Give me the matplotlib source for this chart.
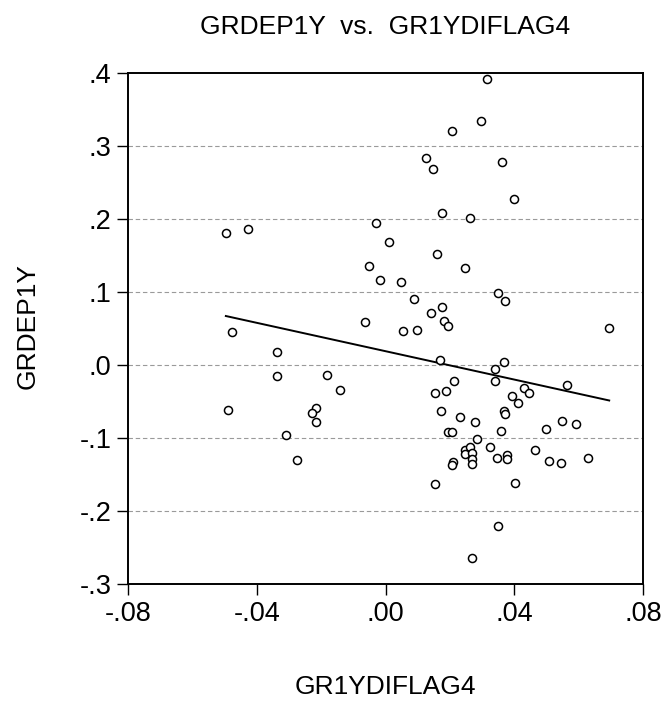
import numpy as np
import matplotlib
matplotlib.use('Agg')
import matplotlib.pyplot as plt

# scatter data
gr1ydiflag4 = [
    -0.0496, -0.0426, 0.0315, 0.0298, 0.0208, 0.0125, 0.0149, 0.0363, 0.0176, 0.0263,
    -0.0029, 0.0011, 0.0159, 0.0398, -0.0478, -0.0336, -0.0336, -0.0488, -0.0310, -0.0052,
    0.0247, -0.0017, 0.0047, 0.0350, 0.0090, 0.0176, 0.0141, 0.0182, 0.0193, -0.0065,
    0.0053, 0.0097, 0.0169, 0.0340, 0.0339, -0.0182, -0.0142, 0.0213, 0.0154, 0.0189,
    -0.0217, -0.0229, -0.0217, 0.0172, 0.0231, 0.0278, 0.0193, 0.0206, 0.0285, 0.0246,
    0.0264, 0.0325, 0.0360, 0.0372, 0.0695, 0.0367, 0.0565, 0.0431, 0.0445, 0.0394,
    0.0411, 0.0369, 0.0372, 0.0548, 0.0593, 0.0500, 0.0465, -0.0276, 0.0246, 0.0270,
    0.0270, 0.0270, 0.0210, 0.0206, 0.0345, 0.0154, 0.0348, 0.0268, 0.0378, 0.0378,
    0.0507, 0.0546, 0.0630, 0.0401,
]
grdep1y = [
    0.1803, 0.1861, 0.3914, 0.3339, 0.3206, 0.2833, 0.2678, 0.2782, 0.2080, 0.2012,
    0.1939, 0.1679, 0.1526, 0.2268, 0.0452, 0.0174, -0.0150, -0.0611, -0.0951, 0.1359,
    0.1328, 0.1164, 0.1140, 0.0990, 0.0908, 0.0798, 0.0712, 0.0603, 0.0534, 0.0585,
    0.0462, 0.0483, 0.0065, -0.0054, -0.0223, -0.0132, -0.0346, -0.0223, -0.0383, -0.0355,
    -0.0592, -0.0652, -0.0775, -0.0625, -0.0707, -0.0780, -0.0912, -0.0912, -0.1016, -0.1163,
    -0.1115, -0.1115, -0.0907, 0.0876, 0.0511, 0.0046, -0.0277, -0.0318, -0.0387, -0.0424,
    -0.0515, -0.0629, -0.0674, -0.0762, -0.0811, -0.0879, -0.1156, -0.1299, -0.1217, -0.1208,
    -0.1282, -0.1354, -0.1323, -0.1368, -0.1272, -0.1624, -0.2198, -0.2640, -0.1235, -0.1290,
    -0.1309, -0.1345, -0.1276, -0.1618,
]

x_ticks = [-0.08, -0.04, 0.00, 0.04, 0.08]
x_tick_labels = ['-.08', '-.04', '.00', '.04', '.08']
y_ticks = [-0.3, -0.2, -0.1, 0.0, 0.1, 0.2, 0.3, 0.4]
y_tick_labels = ['-.3', '-.2', '-.1', '.0', '.1', '.2', '.3', '.4']

plt.rcParams['font.family'] = ['Liberation Sans', 'DejaVu Sans']

fig = plt.figure(figsize=(6.61, 7.04), dpi=100)
ax = fig.add_axes([128 / 661, 1 - 584.3 / 704, 515 / 661, 511.6 / 704])

x = np.array(gr1ydiflag4)
y = np.array(grdep1y)

# horizontal dashed grid
for yt in y_ticks[1:-1]:
    ax.axhline(yt, color='#9a9a9a', lw=0.8, ls=(0, (4, 2.5)), zorder=0)

ax.plot(x, y, 'o', ms=5.8, mfc='white', mec='black', mew=1.1, zorder=3)

# least squares line over the data range
slope, icept = np.polyfit(x, y, 1)
xs = np.array([x.min(), x.max()])
ax.plot(xs, icept + slope * xs, color='black', lw=1.4, zorder=2)

ax.set_xlim(-0.08, 0.08)
ax.set_ylim(-0.3, 0.4)
ax.set_xticks(x_ticks)
ax.set_xticklabels(x_tick_labels)
ax.set_yticks(y_ticks)
ax.set_yticklabels(y_tick_labels)
ax.tick_params(direction='out', length=8, width=1.0, labelsize=19.5, pad=4)

for s in ax.spines.values():
    s.set_linewidth(1.4)

ax.set_title('GRDEP1Y  vs.  GR1YDIFLAG4', fontsize=19, pad=28)
ax.set_xlabel('GR1YDIFLAG4', fontsize=19)
ax.xaxis.set_label_coords(0.5, -0.178)
ax.set_ylabel('GRDEP1Y', fontsize=19)
ax.yaxis.set_label_coords(-0.171, 0.505)

fig.savefig('out.png', dpi=100)
